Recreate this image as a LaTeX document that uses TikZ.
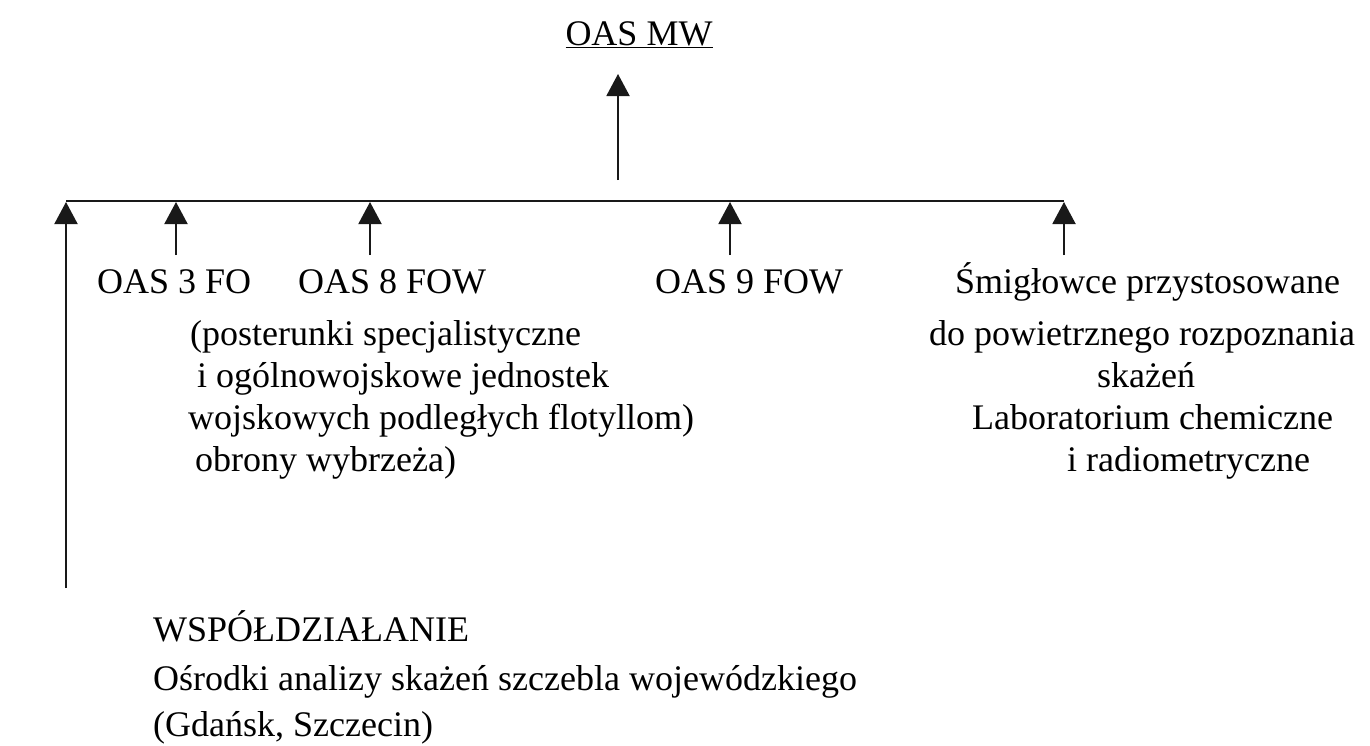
\documentclass[tikz,border=0pt]{standalone}
\usepackage{fontspec}
\setmainfont{Liberation Serif}
\usetikzlibrary{arrows.meta}
\begin{document}
\begin{tikzpicture}[x=1pt,y=-1pt,
  lbl/.style={anchor=base west,inner sep=0pt,font=\fontsize{36}{42}\selectfont},
  wire/.style={line width=2pt,black!90},
  up/.style={wire,-{Triangle[width=23pt,length=22pt]}}]
\useasboundingbox (0,0) rectangle (1370,745);

% head of the chart
\node[lbl,anchor=base] (mw) at (639,45) {\underline{OAS MW}};
\coordinate (mwfoot) at (618,180);
\coordinate (mwtip) at (618,74);
\draw[up] (mwfoot) -- (mwtip);

% common bus
\coordinate (busL) at (66,201);
\coordinate (busR) at (1064,201);
\draw[wire] (busL) -- (busR);

% subordinate units
\node[lbl] (fo3) at (97,293) {OAS 3 FO};
\node[lbl] (fow8) at (298,293) {OAS 8 FOW};
\node[lbl] (fow9) at (655,293) {OAS 9 FOW};

\node[lbl] (p1) at (190,345) {(posterunki specjalistyczne};
\node[lbl] (p2) at (197,387) {i ogólnowojskowe jednostek};
\node[lbl] (p3) at (188,429) {wojskowych podległych flotyllom)};
\node[lbl] (p4) at (195,471) {obrony wybrzeża)};

\node[lbl] (h1) at (955,293) {Śmigłowce przystosowane};
\node[lbl] (h2) at (929,345) {do powietrznego rozpoznania};
\node[lbl] (h3) at (1097,387) {skażeń};
\node[lbl] (h4) at (972,429) {Laboratorium chemiczne};
\node[lbl] (h5) at (1067,471) {i radiometryczne};

% cooperation
\node[lbl] (w1) at (153,641) {WSPÓŁDZIAŁANIE};
\node[lbl] (w2) at (153,690) {Ośrodki analizy skażeń szczebla wojewódzkiego};
\node[lbl] (w3) at (153,736) {(Gdańsk, Szczecin)};

% arrows up to the bus
\coordinate (a0) at (66,588);
\coordinate (a1) at (176,255);
\coordinate (a2) at (370,255);
\coordinate (a3) at (730,255);
\coordinate (a4) at (1064,255);
\foreach \c/\x in {a0/66,a1/176,a2/370,a3/730,a4/1064}
  \draw[up] (\c) -- (\x,202);
\end{tikzpicture}
\end{document}
